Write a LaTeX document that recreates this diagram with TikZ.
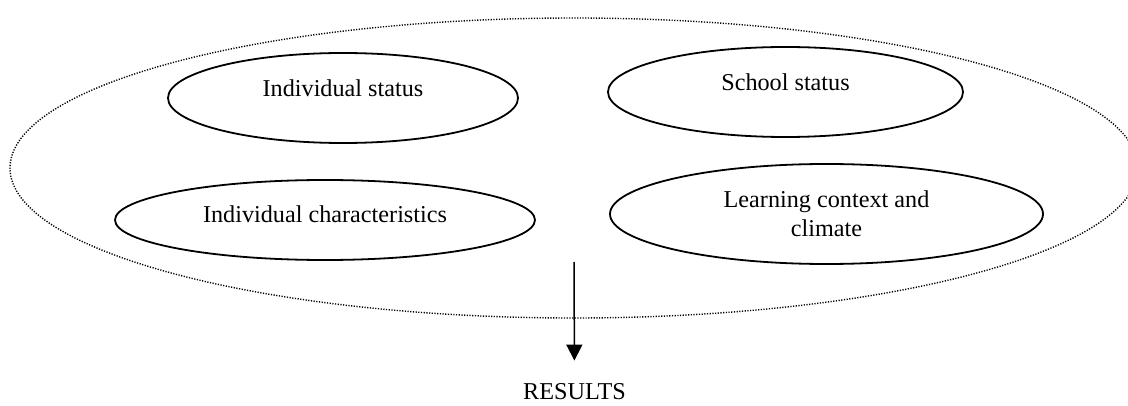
\documentclass[tikz,border=0pt]{standalone}
\usepackage{fontspec}
\setmainfont{Liberation Serif}
\usetikzlibrary{shapes.geometric,arrows.meta}
\begin{document}
\begin{tikzpicture}[x=0.5pt,y=-0.5pt,
  factor/.style={draw, ellipse, line width=0.9pt, inner sep=0pt,
    font=\fontsize{12.1}{14.5}\selectfont, align=center, text height=8pt},
  outer/.style={draw, line width=0.7pt, dash pattern=on 0.6pt off 0.75pt},
  arr/.style={-{Triangle[width=8pt,length=8pt]}, line width=0.75pt}]
\useasboundingbox (0,0) rectangle (1128,406);
\draw[outer] (574,168) ellipse [x radius=282pt, y radius=75pt];
\node[factor, minimum width=175pt, minimum height=45pt, text depth=9pt] (indstatus) at (343,98) {Individual status};
\node[factor, minimum width=177.5pt, minimum height=45pt, text depth=9pt] (schstatus) at (785.5,92) {School status};
\node[factor, minimum width=210pt, minimum height=40pt, text depth=6pt] (indchar) at (325,220) {Individual characteristics};
\node[factor, minimum width=216.5pt, minimum height=50pt, text height=, text depth=] (learning) at (826.5,214) {Learning context and\\climate};
\node[font=\fontsize{12.1}{14.5}\selectfont, anchor=base, inner sep=0pt] (results) at (574.5,399) {RESULTS};
\coordinate (arrowstart) at (574,262);
\draw[arr] (arrowstart) -- (results.north) [shorten >=11pt];
\end{tikzpicture}
\end{document}
